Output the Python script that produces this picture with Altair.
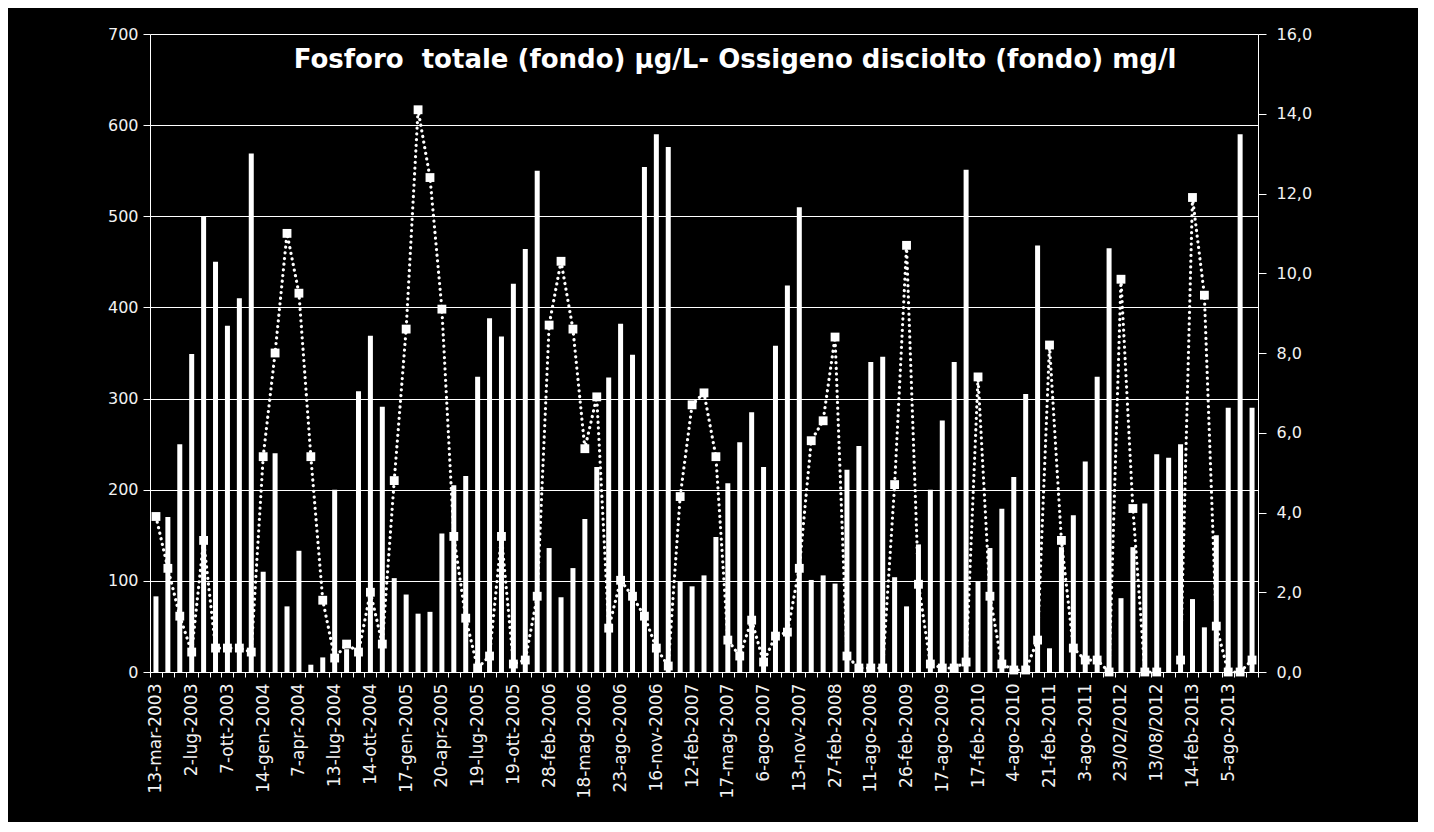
import json
import altair as alt
import pandas as pd

# x-axis date labels (one every 3 samples)
date_labels = [
    "13-mar-2003", "2-lug-2003", "7-ott-2003", "14-gen-2004", "7-apr-2004",
    "13-lug-2004", "14-ott-2004", "17-gen-2005", "20-apr-2005", "19-lug-2005",
    "19-ott-2005", "28-feb-2006", "18-mag-2006", "23-ago-2006", "16-nov-2006",
    "12-feb-2007", "17-mag-2007", "6-ago-2007", "13-nov-2007", "27-feb-2008",
    "11-ago-2008", "26-feb-2009", "17-ago-2009", "17-feb-2010", "4-ago-2010",
    "21-feb-2011", "3-ago-2011", "23/02/2012", "13/08/2012", "14-feb-2013",
    "5-ago-2013",
]
label_step = 3

# Fosforo totale (fondo) µg/L  -> bars, left axis
fosforo = [
    83, 170, 250, 349, 500, 450, 380, 410, 569, 110,
    240, 72, 133, 8, 16, 200, 25, 308, 369, 291,
    103, 85, 64, 66, 152, 205, 215, 324, 388, 368,
    426, 464, 550, 136, 82, 114, 168, 225, 323, 382,
    348, 554, 590, 576, 99, 94, 106, 148, 207, 252,
    285, 225, 358, 424, 510, 101, 106, 97, 222, 248,
    340, 346, 104, 72, 140, 200, 276, 340, 551, 99,
    136, 179, 214, 305, 468, 26, 137, 172, 231, 324,
    465, 81, 137, 185, 239, 235, 250, 80, 49, 150,
    290, 590, 290,
]

# Ossigeno disciolto (fondo) mg/l -> dotted line, right axis
ossigeno = [
    3.9, 2.6, 1.4, 0.5, 3.3, 0.6, 0.6, 0.6, 0.5, 5.4,
    8.0, 11.0, 9.5, 5.4, 1.8, 0.35, 0.7, 0.5, 2.0, 0.7,
    4.8, 8.6, 14.1, 12.4, 9.1, 3.4, 1.35, 0.1, 0.4, 3.4,
    0.2, 0.3, 1.9, 8.7, 10.3, 8.6, 5.6, 6.9, 1.1, 2.3,
    1.9, 1.4, 0.6, 0.15, 4.4, 6.7, 7.0, 5.4, 0.8, 0.4,
    1.3, 0.25, 0.9, 1.0, 2.6, 5.8, 6.3, 8.4, 0.4, 0.1,
    0.1, 0.1, 4.7, 10.7, 2.2, 0.2, 0.1, 0.1, 0.25, 7.4,
    1.9, 0.2, 0.05, 0.05, 0.8, 8.2, 3.3, 0.6, 0.3, 0.3,
    0.0, 9.85, 4.1, 0.0, 0.0, None, 0.3, 11.9, 9.45, 1.15,
    0.0, 0.0, 0.3,
]

title_text = "Fosforo\u00a0 totale (fondo) µg/L- Ossigeno disciolto (fondo) mg/l"

n = len(fosforo)
df = pd.DataFrame({"idx": list(range(n)), "fosforo": fosforo, "ossigeno": ossigeno})

TXT = "#f2f2f2"
label_expr = (
    f"datum.value % {label_step} == 0 ? "
    + json.dumps(date_labels)
    + f"[floor(datum.value / {label_step})] : ''"
)

x_enc = alt.X(
    "idx:O",
    scale=alt.Scale(paddingInner=0, paddingOuter=0),
    axis=alt.Axis(
        title=None,
        labelExpr=label_expr,
        labelAngle=-90,
        labelAlign="right",
        labelBaseline="middle",
        labelFont="DejaVu Sans",
        labelFontSize=17,
        labelColor=TXT,
        labelPadding=6,
        labelOverlap=False,
        labelBound=False,
        tickBand="extent",
        tickColor="white",
        tickSize=5,
        domainColor="white",
        domainWidth=1,
        grid=False,
    ),
)

right_axis = alt.Axis(
    orient="right",
    title=None,
    values=[0, 2, 4, 6, 8, 10, 12, 14, 16],
    labelExpr="replace(format(datum.value, '.1f'), '.', ',')",
    labelFont="DejaVu Sans",
    labelFontSize=16,
    labelColor=TXT,
    labelPadding=10,
    tickColor="white",
    tickSize=8,
    domainColor="white",
    grid=False,
)

bars = alt.Chart(df).mark_bar(size=5, color="white").encode(
    x=x_enc,
    y=alt.Y(
        "fosforo:Q",
        scale=alt.Scale(domain=[0, 700], nice=False),
        axis=alt.Axis(
            title=None,
            values=[0, 100, 200, 300, 400, 500, 600, 700],
            labelFont="DejaVu Sans",
            labelFontSize=16,
            labelColor=TXT,
            labelPadding=5,
            tickColor="white",
            tickSize=7,
            domainColor="white",
            grid=True,
            gridColor="white",
            gridWidth=1,
            gridOpacity=1,
        ),
    ),
)

y_ox = alt.Y("ossigeno:Q", scale=alt.Scale(domain=[0, 16], nice=False), axis=right_axis)

line = alt.Chart(df).mark_line(
    color="white", strokeWidth=3.2, strokeDash=[0.1, 5.6], strokeCap="round"
).encode(x=x_enc, y=y_ox)

squares = alt.Chart(df).mark_square(
    size=78, color="white", filled=True, opacity=1
).encode(x=x_enc, y=y_ox)

chart = (
    alt.layer(bars, alt.layer(line, squares))
    .resolve_scale(y="independent")
    .properties(
        width=1108,
        height=638,
        padding={"left": 142, "top": 26, "right": 160, "bottom": 150},
        autosize=alt.AutoSizeParams(type="none"),
        title=alt.TitleParams(
            text=title_text,
            font="DejaVu Sans",
            fontSize=26,
            fontWeight="bold",
            color="white",
            anchor="middle",
            frame="group",
            offset=0,
            dx=31,
            dy=47,
        ),
    )
    .configure(background="black")
    .configure_view(stroke=None)
)

chart.save("out.html", embed_options={"renderer": "svg", "actions": False})
